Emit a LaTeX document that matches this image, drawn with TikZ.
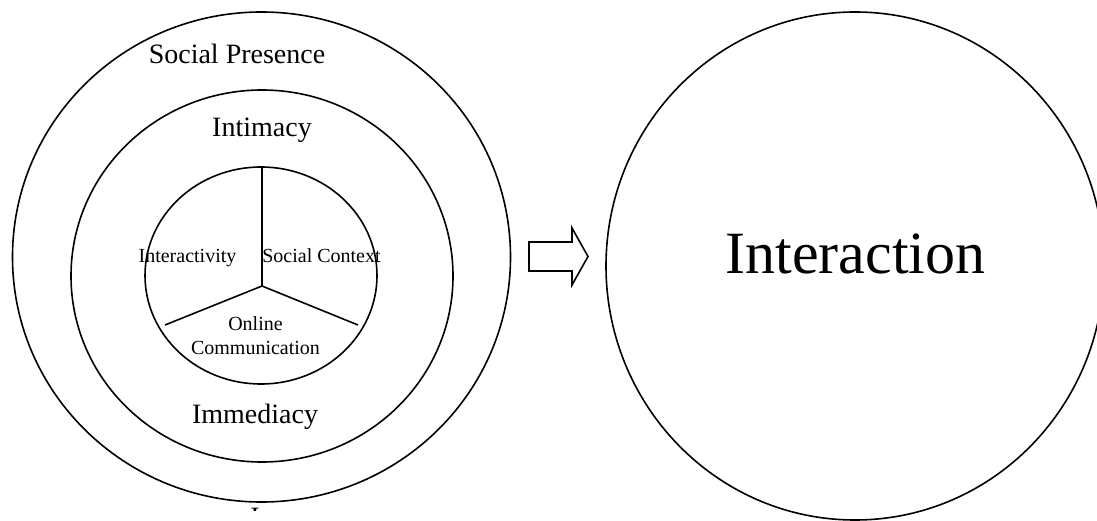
\documentclass[tikz,border=0pt]{standalone}
\usepackage{fontspec}
\setmainfont{Liberation Serif}
\usetikzlibrary{shapes.geometric}

\begin{document}
\begin{tikzpicture}[x=1pt, y=-1pt]
\tikzset{ inner sep=0pt, outer sep=0pt,
  ring/.style={draw, ellipse, line width=1.6pt},
  spoke/.style={line width=1.6pt},
  lbig/.style={font=\fontsize{28}{34}\selectfont, anchor=base},
  lsmall/.style={font=\fontsize{20}{24}\selectfont, anchor=base},
  lhuge/.style={font=\fontsize{60}{72}\selectfont, anchor=base},
}

\useasboundingbox (0,0) rectangle (1097,521);
%\draw [lightgray, dashed](0,0) grid[step=50] (1097,521);

\node [ring, minimum width=498, minimum height=490] (SP) at (261.5,257) { };
\node [ring, minimum width=382, minimum height=372] (IT) at (262,276) { };
\node [ring, minimum width=232, minimum height=217] (IN) at (261,275.5) { };
\node [ring, minimum width=498, minimum height=508] (IA) at (855,266) { };

\coordinate (O)  at (262,286);
\coordinate (Up) at (262,167.5);
\coordinate (Lf) at (165,325);
\coordinate (Rt) at (358,325);

\draw [spoke] (O) -- (Up);
\draw [spoke] (O) -- (Lf);
\draw [spoke] (O) -- (Rt);

% arrow
\draw [line width=1.6pt, line join=miter]
  (529,242) -- (572,242) -- (572,228) -- (588,256.5) -- (572,285)
  -- (572,271) -- (529,271) -- cycle;

\node [lbig] (tSP) at (237,64)  {Social Presence};
\node [lbig] (tIT) at (262,137) {Intimacy};
\node [lbig] (tIM) at (255,423) {Immediacy};

\node [lsmall] (tIV) at (187.5,262) {Interactivity};
\node [lsmall] (tSC) at (321.5,262) {Social Context};
\node [lsmall] (tOn) at (255.5,330) {Online};
\node [lsmall] (tCo) at (255.5,354) {Communication};

\node [lhuge] (tIA) at (855.5,273) {Interaction};

\begin{scope}
\clip (240,505) rectangle (270,510);
\node [lbig] (tI) at (255,526) {I};
\end{scope}

\end{tikzpicture}
\end{document}
